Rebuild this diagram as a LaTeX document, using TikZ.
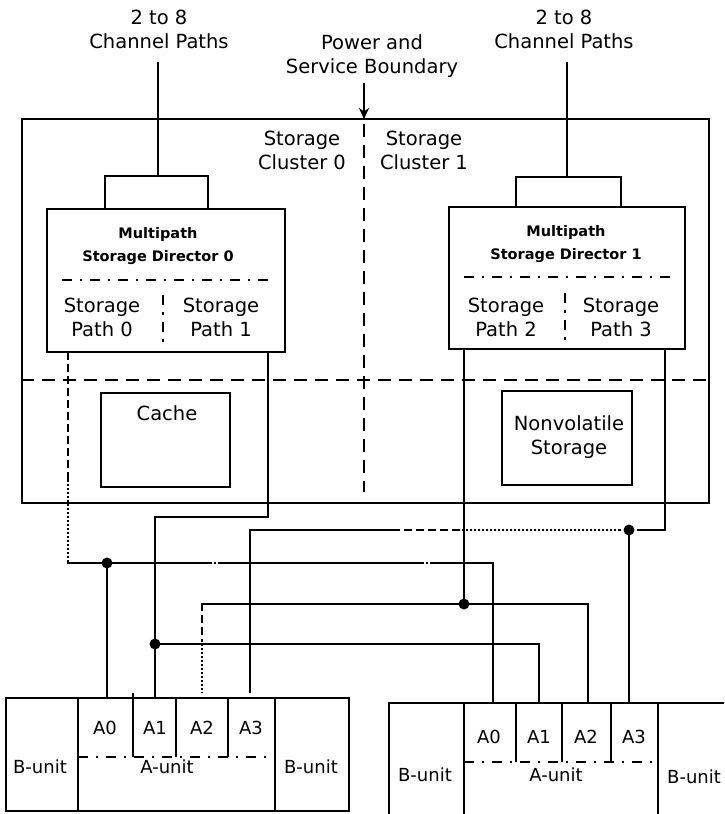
\documentclass[tikz,border=0pt]{standalone}
\usepackage{fontspec}
\setmainfont{DejaVu Sans}
\usetikzlibrary{arrows.meta}
\begin{document}
\begin{tikzpicture}[x=1pt,y=-1pt,line width=2.4pt,
  box/.style={draw,line width=2.4pt,inner sep=0pt,rectangle},
  lbl/.style={font=\fontsize{19.5}{24}\selectfont,align=center,inner sep=0pt},
  ulbl/.style={font=\fontsize{18}{20}\selectfont,inner sep=0pt},
  ttl/.style={font=\bfseries\fontsize{14.5}{23}\selectfont,align=center,inner sep=0pt},
  dotw/.style={line width=2.4pt,dash pattern=on 2pt off 2pt},
  dashw/.style={line width=2.4pt,dash pattern=on 8pt off 4pt},
  bnd/.style={line width=2.4pt,dash pattern=on 13pt off 8pt},
  dd/.style={line width=2.4pt,dash pattern=on 10pt off 8pt on 2pt off 8pt},
  sepw/.style={line width=2.4pt,dash pattern=on 10pt off 7pt on 3pt off 7pt},
  jdot/.style={circle,fill,inner sep=0pt,minimum size=11pt}]
\useasboundingbox (0,0) rectangle (724,814);
\clip (0,0) rectangle (724,814);

% main boxes
\node[box,minimum width=687pt,minimum height=384pt] (outer) at (365.5,311) {};
\node[box,minimum width=238pt,minimum height=143pt] (dir0) at (166,280.5) {};
\node[box,minimum width=236pt,minimum height=142pt] (dir1) at (567,278) {};
\node[box,minimum width=129pt,minimum height=94pt] (cache) at (165.5,440) {};
\node[box,minimum width=130pt,minimum height=94pt] (nvs) at (567,438) {};
\node[box,minimum width=343pt,minimum height=113pt] (unitL) at (177.5,754.5) {};
\node[box,minimum width=371pt,minimum height=127pt] (unitR) at (574.5,766.5) {};

% texts
\node[lbl] (ch0) at (159,29) {2 to 8\\Channel Paths};
\node[lbl] (ch1) at (564,29) {2 to 8\\Channel Paths};
\node[lbl] (pwr) at (372,56) {Power and\\Service Boundary};
\node[lbl] (sc0) at (302,150) {Storage\\Cluster 0};
\node[lbl] (sc1) at (424,150) {Storage\\Cluster 1};
\node[ttl] (md0) at (158,246) {Multipath\\Storage Director 0};
\node[ttl] (md1) at (566,244) {Multipath\\Storage Director 1};
\node[lbl] (sp0) at (102,317) {Storage\\Path 0};
\node[lbl] (sp1) at (221,317) {Storage\\Path 1};
\node[lbl] (sp2) at (506,317) {Storage\\Path 2};
\node[lbl] (sp3) at (621,317) {Storage\\Path 3};
\node[lbl] (cachet) at (167,413) {Cache};
\node[lbl] (nvst) at (569,437) {Nonvolatile\\Storage};

% channel paths and brackets
\coordinate (b0) at (158,176);
\coordinate (b1) at (567,177);
\draw (158,62) -- (b0);
\draw (105,209) |- (b0) -| (208,209);
\draw (567,62) -- (b1);
\draw (516,207) |- (b1) -| (621,207);

% power / service boundary
\draw[-{Stealth[length=11pt,width=10pt]}] (364,83) -- (364,119);
\draw[bnd] (364,124) -- (364,492);
\draw[bnd] (outer.west |- 0,380) -- (outer.east |- 0,380);

% director internals
\draw[dd] (62,280) -- (275,280);
\draw[dd] (464,277) -- (676,277);
\draw[sepw] (163,295) -- (163,345);
\draw[sepw] (565,293) -- (565,343);

% junctions
\coordinate (j0) at (107,563);
\coordinate (j1) at (155,644);
\coordinate (j2) at (464,604);
\coordinate (j3) at (629,530);

% path 0
\draw[dashw] (68,352) -- (68,480);
\draw[dotw] (68,480) -- (68,563);
\draw (67,563) -- (210,563);
\draw[dotw] (210,563) -- (220,563);
\draw (220,563) -- (422,563);
\draw[dotw] (422,563) -- (432,563);
\draw (432,563) -| (493,702);
\draw (j0) -- (107,698);
% path 1
\draw (268,352) |- (155,517) -- (155,698);
\draw (j1) -| (539,702);
% path 2
\draw (464,349) -- (j2);
\draw (202,604) -- (588,604) -- (588,702);
\draw[dashw] (202,603) -- (202,640);
\draw[dotw] (202,640) -- (202,693);
% path 3
\draw (665,349) -- (665,530) -- (645,530);
\draw[dashw] (645,530) -- (620,530);
\draw[dotw] (620,530) -- (460,530);
\draw[dashw] (460,530) -- (395,530);
\draw (395,530) -- (250,530) -- (250,693);
\draw (j3) -- (629,702);

\node[jdot] at (j0) {};
\node[jdot] at (j1) {};
\node[jdot] at (j2) {};
\node[jdot] at (j3) {};

% left unit internals
\draw (78,698) -- (78,811);
\draw (275,698) -- (275,811);
\draw (133,693) -- (133,757);
\draw (176,698) -- (176,757);
\draw (228,698) -- (228,757);
\draw[dd] (78,757) -- (275,757);
\node[ulbl] (lb1) at (40,767) {B-unit};
\node[ulbl] (la) at (167,767) {A-unit};
\node[ulbl] (lb2) at (311,767) {B-unit};
\node[ulbl] (la0) at (105,728) {A0};
\node[ulbl] (la1) at (155,728) {A1};
\node[ulbl] (la2) at (202,728) {A2};
\node[ulbl] (la3) at (251,728) {A3};

% right unit internals
\draw (464,703) -- (464,830);
\draw (658,703) -- (658,830);
\draw (516,703) -- (516,762);
\draw (562,703) -- (562,762);
\draw (611,703) -- (611,762);
\draw[dd] (464,762) -- (658,762);
\node[ulbl] (rb1) at (425,775) {B-unit};
\node[ulbl] (ra) at (556,775) {A-unit};
\node[ulbl,anchor=west] (rb2) at (666,777) {B-unit};
\node[ulbl] (ra0) at (489,737) {A0};
\node[ulbl] (ra1) at (539,737) {A1};
\node[ulbl] (ra2) at (586,737) {A2};
\node[ulbl] (ra3) at (634,737) {A3};
\end{tikzpicture}
\end{document}
